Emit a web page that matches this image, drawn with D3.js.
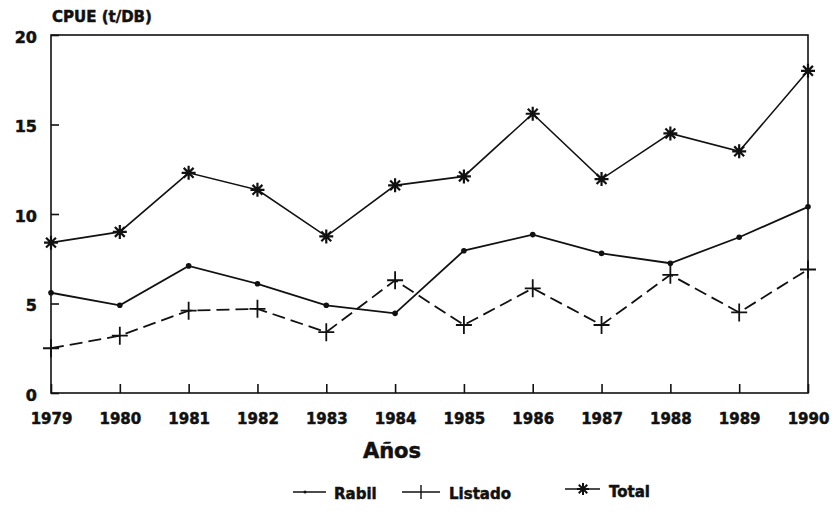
<!DOCTYPE html>
<html>
<head>
<meta charset="utf-8">
<script src="https://cdn.jsdelivr.net/npm/d3@7"></script>
<style>
  body { margin: 0; background: #fff; }
  text { font-family: "DejaVu Sans", "Liberation Sans", sans-serif; font-weight: bold; fill: #111; stroke: #111; stroke-width: 0.5; }
</style>
</head>
<body>
<div id="chart"></div>
<script>
// Data
const years = [1979, 1980, 1981, 1982, 1983, 1984, 1985, 1986, 1987, 1988, 1989, 1990];
const rabil = [5.6, 4.9, 7.1, 6.1, 4.9, 4.45, 7.95, 8.85, 7.8, 7.25, 8.7, 10.4];
const listado = [2.5, 3.2, 4.6, 4.7, 3.4, 6.3, 3.8, 5.85, 3.8, 6.6, 4.5, 6.9];
const total = [8.4, 9.0, 12.3, 11.35, 8.75, 11.6, 12.1, 15.6, 11.95, 14.5, 13.5, 18.0];
const yTicks = [0, 5, 10, 15, 20];

const width = 837;
const height = 518;
const margin = { top: 35, right: 29, bottom: 125, left: 51 };

const svg = d3.select("#chart")
    .append("svg")
    .attr("width", width)
    .attr("height", height);

const xScale = d3.scalePoint().domain(years).range([margin.left, width - margin.right]);
const yScale = d3.scaleLinear().domain([0, 20]).range([height - margin.bottom, margin.top]);

// frame
svg.append("rect")
    .attr("x", margin.left)
    .attr("y", margin.top)
    .attr("width", width - margin.right - margin.left)
    .attr("height", height - margin.bottom - margin.top)
    .attr("fill", "none")
    .attr("stroke", "#111")
    .attr("stroke-width", 1.6);

// axes
const xAxis = svg.append("g")
    .attr("transform", `translate(0,${height - margin.bottom})`)
    .call(d3.axisBottom(xScale).tickSizeInner(-9).tickSizeOuter(0).tickPadding(20));
xAxis.select(".domain").remove();
xAxis.selectAll("line").attr("stroke", "#111").attr("stroke-width", 1.6);
xAxis.selectAll("text").attr("font-size", 15).style("font-family", "DejaVu Sans").style("font-weight", "bold");

const yAxis = svg.append("g")
    .attr("transform", `translate(${margin.left},0)`)
    .call(d3.axisLeft(yScale).tickValues(yTicks).tickSizeInner(-8).tickSizeOuter(0).tickPadding(14));
yAxis.select(".domain").remove();
yAxis.selectAll("line").attr("stroke", "#111").attr("stroke-width", 1.6);
yAxis.selectAll("text").attr("font-size", 16).attr("dy", "0.45em").style("font-family", "DejaVu Sans").style("font-weight", "bold");

const line = d3.line()
    .x((d, i) => xScale(years[i]))
    .y(d => yScale(d));

// Rabil
svg.append("path").datum(rabil)
    .attr("d", line).attr("fill", "none").attr("stroke", "#111").attr("stroke-width", 1.8);
svg.selectAll(".rabil").data(rabil).enter().append("circle")
    .attr("cx", (d, i) => xScale(years[i])).attr("cy", d => yScale(d))
    .attr("r", 2.8).attr("fill", "#111");

// Listado
svg.append("path").datum(listado)
    .attr("d", line).attr("fill", "none").attr("stroke", "#111").attr("stroke-width", 1.8)
    .attr("stroke-dasharray", "13,6");
svg.selectAll(".listado").data(listado).enter().append("path")
    .attr("transform", (d, i) => `translate(${xScale(years[i])},${yScale(d)})`)
    .attr("d", "M-8,0H8M0,-9V9").attr("stroke", "#111").attr("stroke-width", 1.8);

// Total
svg.append("path").datum(total)
    .attr("d", line).attr("fill", "none").attr("stroke", "#111").attr("stroke-width", 1.6);
function starPath(r) {
    let p = "";
    for (let k = 0; k < 4; k++) {
        const a = k * Math.PI / 4;
        p += `M${-r * Math.cos(a)},${-r * Math.sin(a)}L${r * Math.cos(a)},${r * Math.sin(a)}`;
    }
    return p;
}
svg.selectAll(".total").data(total).enter().append("path")
    .attr("transform", (d, i) => `translate(${xScale(years[i])},${yScale(d)})`)
    .attr("d", starPath(7)).attr("stroke", "#111").attr("stroke-width", 2.2);

// titles
svg.append("text")
    .attr("x", 52).attr("y", 22)
    .attr("font-size", 15)
    .text("CPUE (t/DB)");

svg.append("text")
    .attr("x", 392).attr("y", 458)
    .attr("text-anchor", "middle")
    .attr("font-size", 21)
    .text("Años");

// legend
const legendY = 492;
const legend = svg.append("g");
legend.append("line").attr("x1", 293).attr("x2", 326).attr("y1", legendY).attr("y2", legendY)
    .attr("stroke", "#111").attr("stroke-width", 1.4);
legend.append("circle").attr("cx", 305).attr("cy", legendY).attr("r", 1.5).attr("fill", "#111");
legend.append("text").attr("x", 334).attr("y", legendY + 7).attr("font-size", 15).text("Rabil");

legend.append("line").attr("x1", 402).attr("x2", 440).attr("y1", legendY).attr("y2", legendY)
    .attr("stroke", "#111").attr("stroke-width", 1.4);
legend.append("path").attr("transform", `translate(421,${legendY})`)
    .attr("d", "M0,-7V7").attr("stroke", "#111").attr("stroke-width", 1.4);
legend.append("text").attr("x", 449).attr("y", legendY + 7).attr("font-size", 15).text("Listado");

legend.append("line").attr("x1", 565).attr("x2", 600).attr("y1", legendY - 3).attr("y2", legendY - 3)
    .attr("stroke", "#111").attr("stroke-width", 1.4);
legend.append("path").attr("transform", `translate(583,${legendY - 3})`)
    .attr("d", starPath(6)).attr("stroke", "#111").attr("stroke-width", 2);
legend.append("text").attr("x", 609).attr("y", legendY + 5).attr("font-size", 15).text("Total");
</script>
</body>
</html>
